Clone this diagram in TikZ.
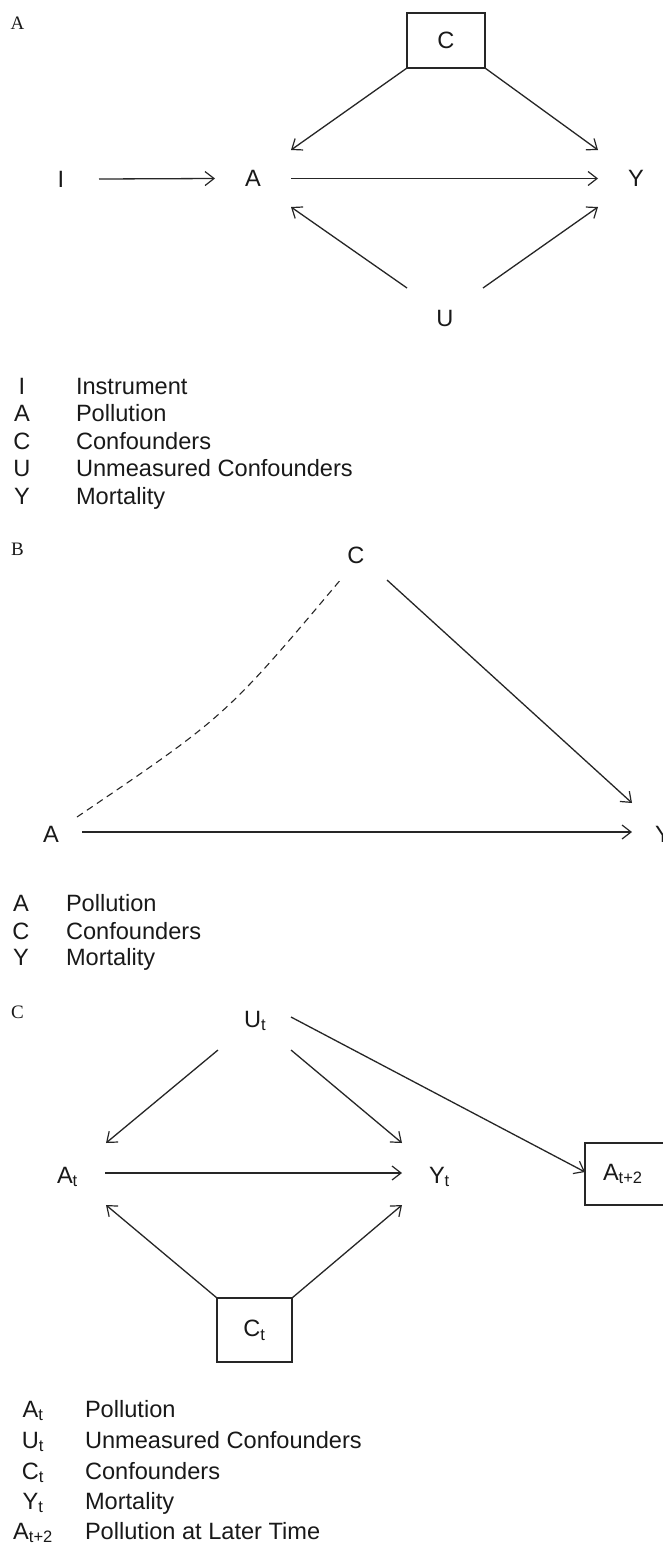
\documentclass[tikz,border=0pt]{standalone}
\usepackage{fontspec}
\setmainfont{Liberation Sans}
\newfontfamily\panelfont{Liberation Serif}
\usetikzlibrary{arrows.meta}
\begin{document}
\begin{tikzpicture}[x=1pt,y=-1pt,
  every node/.style={inner sep=0pt, outer sep=0pt, text=black!90},
  lbl/.style={font=\fontsize{23.6}{27}\selectfont},
  var/.style={lbl, minimum width=76pt, minimum height=57pt},
  boxvar/.style={lbl, draw=black!85, line width=1.4pt},
  panel/.style={font=\panelfont\fontsize{19}{22}\selectfont, anchor=base},
  legsym/.style={lbl, anchor=base},
  legtxt/.style={lbl, anchor=base west},
  arr/.style={draw=black!85, line width=1.3pt, -{Straight Barb[length=9pt,width=14pt,line width=1.2pt]}},
  dashline/.style={draw=black!85, line width=1.1pt, dash pattern=on 7pt off 5pt},
]
\fill[white] (0,0) rectangle (663,1545);
\useasboundingbox (0,0) rectangle (663,1545);

% ---------- Panel A ----------
\node[panel] (labA) at (17.5,29) {A};
\node[var] (I) at (61,179) {I};
\node[var] (A) at (253,178.5) {A};
\node[var] (Y) at (636,178.5) {Y};
\node[boxvar, minimum width=78pt, minimum height=55pt] (C) at (446,40.5) {C};
\node[var, minimum height=60pt] (U) at (445,318) {U};

\draw[arr] (I.east) -- (A.west);
\draw[arr] (A.east) -- (Y.west);
\draw[arr] (C.south west) -- (A.north east);
\draw[arr] (C.south east) -- (Y.north west);
\draw[arr] (U.north west) -- (A.south east);
\draw[arr] (U.north east) -- (Y.south west);

\node[legsym] (la1) at (22,394) {I};   \node[legtxt] (lt1) at (76,394) {Instrument};
\node[legsym] (la2) at (22,421) {A};   \node[legtxt] (lt2) at (76,421) {Pollution};
\node[legsym] (la3) at (22,449) {C};   \node[legtxt] (lt3) at (76,449) {Confounders};
\node[legsym] (la4) at (22,476) {U};   \node[legtxt] (lt4) at (76,476) {Unmeasured Confounders};
\node[legsym] (la5) at (22,504) {Y};   \node[legtxt] (lt5) at (76,504) {Mortality};

% ---------- Panel B ----------
\node[panel] (labB) at (17.5,555) {B};
\node[lbl] (BC) at (356,555) {C};
\node[lbl] (BA) at (51,834) {A};
\node[lbl] (BY) at (663,834) {Y};

\draw[arr] ([shift={(31,-2)}]BA.center) -- ([shift={(-31,-2)}]BY.center);
\draw[arr] ([shift={(31,25)}]BC.center) -- ([shift={(-31,-31)}]BY.center);
\draw[dashline] ([shift={(26,-17)}]BA.center) .. controls (226,716) .. ([shift={(-14,23)}]BC.center);

\node[legsym] (lb1) at (21,911) {A};   \node[legtxt] (ltb1) at (66,911) {Pollution};
\node[legsym] (lb2) at (21,939) {C};   \node[legtxt] (ltb2) at (66,939) {Confounders};
\node[legsym] (lb3) at (21,965) {Y};   \node[legtxt] (ltb3) at (66,965) {Mortality};

% ---------- Panel C ----------
\node[panel] (labC) at (17.5,1018) {C};
\node[lbl, anchor=base west] (Ut) at (244,1027) {U\textsubscript{t}};
\node[lbl, anchor=base west] (At) at (57,1183) {A\textsubscript{t}};
\node[lbl, anchor=base west] (Yt) at (429,1183) {Y\textsubscript{t}};
\node[boxvar, anchor=west, minimum height=62pt, text width=80pt, align=left, inner xsep=18pt] (At2) at (585,1174) {A\textsubscript{t+2}};
\node[boxvar, minimum width=75pt, minimum height=64pt] (Ct) at (254.5,1330) {C\textsubscript{t}};

\draw[arr] ([shift={(48,-10)}]At.base west) -- ([shift={(-27,-10)}]Yt.base west);
\draw[arr] ([shift={(-26,23)}]Ut.base west) -- ([shift={(49,-40)}]At.base west);
\draw[arr] ([shift={(47,23)}]Ut.base west) -- ([shift={(-27,-40)}]Yt.base west);
\draw[arr] ([shift={(47,-10)}]Ut.base west) -- ([shift={(0,-2)}]At2.west);
\draw[arr] (Ct.north west) -- ([shift={(49,22)}]At.base west);
\draw[arr] (Ct.north east) -- ([shift={(-27,22)}]Yt.base west);

\node[legsym] (lc1) at (33,1417) {A\textsubscript{t}};   \node[legtxt] (ltc1) at (85,1417) {Pollution};
\node[legsym] (lc2) at (33,1448) {U\textsubscript{t}};   \node[legtxt] (ltc2) at (85,1448) {Unmeasured Confounders};
\node[legsym] (lc3) at (33,1479) {C\textsubscript{t}};   \node[legtxt] (ltc3) at (85,1479) {Confounders};
\node[legsym] (lc4) at (33,1509) {Y\textsubscript{t}};   \node[legtxt] (ltc4) at (85,1509) {Mortality};
\node[legsym] (lc5) at (33,1539) {A\textsubscript{t+2}}; \node[legtxt] (ltc5) at (85,1539) {Pollution at Later Time};
\end{tikzpicture}
\end{document}
